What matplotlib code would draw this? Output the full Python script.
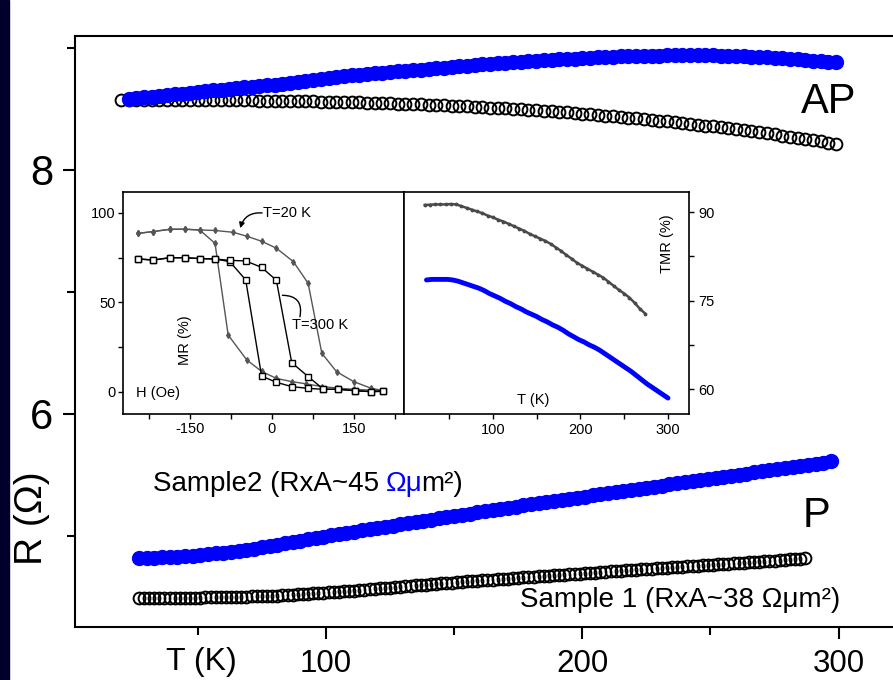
import numpy as np
import matplotlib
matplotlib.use('Agg')
import matplotlib.pyplot as plt
from matplotlib.patches import Rectangle

plt.rcParams['font.family'] = ['Liberation Sans', 'DejaVu Sans']
plt.rcParams['axes.unicode_minus'] = False

BLUE = '#0000ff'

# ---- R(T): sample 1 (open circles), sample 2 (blue) ----
t_ap1 = np.arange(20, 300, 3)
r_ap1 = [8.575, 8.575, 8.575, 8.575, 8.575, 8.575, 8.574, 8.574, 8.574, 8.574,
         8.573, 8.573, 8.573, 8.572, 8.572, 8.571, 8.570, 8.570, 8.569, 8.568,
         8.567, 8.567, 8.566, 8.565, 8.563, 8.562, 8.561, 8.560, 8.558, 8.557,
         8.555, 8.554, 8.552, 8.550, 8.548, 8.546, 8.544, 8.542, 8.540, 8.537,
         8.535, 8.532, 8.530, 8.527, 8.524, 8.521, 8.518, 8.515, 8.511, 8.508,
         8.504, 8.501, 8.497, 8.493, 8.489, 8.485, 8.480, 8.476, 8.471, 8.467,
         8.462, 8.457, 8.452, 8.446, 8.441, 8.435, 8.430, 8.424, 8.418, 8.412,
         8.405, 8.399, 8.392, 8.386, 8.379, 8.372, 8.364, 8.357, 8.349, 8.341,
         8.333, 8.325, 8.317, 8.308, 8.300, 8.291, 8.282, 8.272, 8.263, 8.253,
         8.244, 8.234, 8.223, 8.213]

t_ap2 = np.arange(23, 300, 3)
r_ap2 = [8.585, 8.590, 8.596, 8.601, 8.607, 8.612, 8.619, 8.626, 8.632, 8.639,
         8.646, 8.653, 8.659, 8.665, 8.671, 8.676, 8.682, 8.688, 8.693, 8.700,
         8.707, 8.714, 8.721, 8.728, 8.735, 8.743, 8.751, 8.759, 8.767, 8.775,
         8.780, 8.786, 8.792, 8.797, 8.803, 8.808, 8.813, 8.818, 8.823, 8.828,
         8.833, 8.838, 8.843, 8.849, 8.854, 8.860, 8.865, 8.870, 8.875, 8.879,
         8.883, 8.887, 8.891, 8.896, 8.900, 8.903, 8.907, 8.910, 8.913, 8.917,
         8.920, 8.923, 8.925, 8.927, 8.930, 8.932, 8.934, 8.936, 8.937, 8.938,
         8.939, 8.940, 8.941, 8.941, 8.940, 8.940, 8.939, 8.938, 8.936, 8.933,
         8.931, 8.929, 8.926, 8.922, 8.918, 8.914, 8.910, 8.906, 8.901, 8.896,
         8.891, 8.887, 8.882]

t_p2 = np.arange(27, 298, 3)
r_p2 = [4.820, 4.821, 4.822, 4.824, 4.827, 4.830, 4.834, 4.839, 4.844, 4.850,
        4.857, 4.864, 4.871, 4.879, 4.888, 4.897, 4.907, 4.917, 4.928, 4.940,
        4.951, 4.962, 4.973, 4.983, 4.994, 5.004, 5.015, 5.025, 5.035, 5.045,
        5.055, 5.065, 5.075, 5.085, 5.095, 5.105, 5.115, 5.125, 5.135, 5.144,
        5.154, 5.164, 5.174, 5.183, 5.193, 5.202, 5.212, 5.221, 5.231, 5.240,
        5.250, 5.259, 5.268, 5.278, 5.287, 5.296, 5.305, 5.314, 5.323, 5.332,
        5.341, 5.350, 5.359, 5.368, 5.377, 5.386, 5.395, 5.404, 5.413, 5.422,
        5.431, 5.440, 5.449, 5.458, 5.467, 5.476, 5.485, 5.494, 5.503, 5.512,
        5.521, 5.530, 5.539, 5.548, 5.557, 5.566, 5.575, 5.584, 5.593, 5.602,
        5.611]

t_p1 = np.arange(27, 288, 2)
r_p1 = [4.490, 4.490, 4.491, 4.491, 4.491, 4.492, 4.492,
        4.492, 4.493, 4.493, 4.494, 4.495, 4.495, 4.496, 4.496, 4.497, 4.498,
        4.499, 4.500, 4.501, 4.502, 4.503, 4.505, 4.506, 4.507, 4.508, 4.509,
        4.511, 4.514, 4.516, 4.519, 4.521, 4.524, 4.526, 4.529, 4.531, 4.534,
        4.537, 4.540, 4.543, 4.547, 4.550, 4.553, 4.556, 4.560, 4.563, 4.566,
        4.570, 4.573, 4.577, 4.580, 4.584, 4.588, 4.591, 4.595, 4.599, 4.602,
        4.606, 4.609, 4.612, 4.615, 4.618, 4.621, 4.624, 4.627, 4.630, 4.633,
        4.636, 4.639, 4.642, 4.645, 4.648, 4.651, 4.654, 4.657, 4.660, 4.663,
        4.665, 4.668, 4.671, 4.674, 4.677, 4.680, 4.683, 4.686, 4.689, 4.692,
        4.694, 4.697, 4.700, 4.703, 4.706, 4.709, 4.712, 4.715, 4.718, 4.721,
        4.723, 4.726, 4.729, 4.732, 4.735, 4.737, 4.740, 4.743, 4.746, 4.749,
        4.751, 4.754, 4.757, 4.759, 4.762, 4.765, 4.767, 4.770, 4.773, 4.776,
        4.778, 4.781, 4.784, 4.787, 4.790, 4.793, 4.796, 4.799, 4.802, 4.805,
        4.808, 4.811, 4.815, 4.818]

# ---- inset: MR(H) loops at 20 K and 300 K ----
h_20a = [203, 180, 149, 118, 91, 63, 36, 8, -19, -46, -80, -104, -132, -159, -186, -217, -244]
mr_20a = [0.7, 1.0, 1.5, 2.2, 3.0, 4.5, 5.8, 7.6, 11.5, 17.9, 31.8, 83.0, 90.5, 90.9, 90.9, 89.6, 88.6]
h_20b = [-244, -217, -186, -159, -132, -104, -71, -46, -19, 8, 39, 66, 91, 118, 149, 180, 203]
mr_20b = [88.6, 89.6, 90.9, 90.9, 90.5, 90.2, 89.2, 87.0, 84.2, 80.3, 72.8, 60.7, 21.6, 11.3, 5.8, 2.2, 0.7]

h_300a = [203, 180, 152, 121, 94, 66, 36, 8, -19, -48, -77, -104, -132, -159, -186, -217, -244]
mr_300a = [0.4, 0.2, 0.7, 1.5, 1.5, 2.0, 3.0, 5.4, 8.9, 62.6, 72.8, 74.3, 74.5, 75.0, 75.0, 73.7, 74.3]
h_300b = [-244, -217, -186, -159, -132, -104, -77, -48, -19, 8, 36, 66, 94, 121, 152, 180, 203]
mr_300b = [74.3, 73.7, 75.0, 75.0, 74.5, 74.3, 73.5, 73.2, 69.6, 62.4, 16.4, 8.6, 1.5, 1.5, 0.7, 0.2, 0.4]

# ---- inset: TMR(T) ----
t_tmr1 = np.arange(22, 275, 6)
tmr1 = [91.2, 91.25, 91.3, 91.3, 91.3, 91.35, 91.3, 91.0, 90.7, 90.4,
        90.1, 89.8, 89.4, 89.1, 88.7, 88.4, 88.0, 87.6, 87.2, 86.8,
        86.3, 85.9, 85.5, 85.1, 84.6, 84.0, 83.4, 82.7, 82.1, 81.4,
        80.9, 80.4, 79.9, 79.4, 78.9, 78.2, 77.5, 76.8, 76.2, 75.5,
        74.6, 73.6, 72.8]
t_tmr2 = np.arange(24, 301, 6)
tmr2 = [78.5, 78.6, 78.6, 78.6, 78.6, 78.5, 78.3, 78.0, 77.7, 77.4,
        77.1, 76.7, 76.2, 75.8, 75.4, 74.9, 74.5, 74.0, 73.6, 73.1,
        72.7, 72.3, 71.8, 71.4, 70.9, 70.5, 70.0, 69.4, 68.9, 68.4,
        68.0, 67.5, 67.1, 66.6, 66.0, 65.4, 64.8, 64.2, 63.6, 63.0,
        62.3, 61.6, 60.9, 60.3, 59.7, 59.1, 58.5]

W, H = 893, 680
fig = plt.figure(figsize=(W / 100, H / 100), dpi=100)
fig.patches.append(Rectangle((0, 0), 9 / W, 1, transform=fig.transFigure,
                             color='#00002b', zorder=0))

# main R(T) panel (runs off the right edge)
ax = fig.add_axes([75 / W, 53 / H, 818 / W, 591 / H])
ax.set_xlim(2.1, 321.2)
ax.set_ylim(4.254, 9.098)
ax.spines['right'].set_visible(False)
for s in ax.spines.values():
    s.set_linewidth(1.5)

ax.plot(t_ap1, r_ap1, 'o', ms=8.5, mfc='none', mec='black', mew=1.4)
ax.plot(t_p1, r_p1, 'o', ms=8.5, mfc='none', mec='black', mew=1.4)
for t, r in ((t_ap2, r_ap2), (t_p2, r_p2)):
    ax.plot(t, r, '-o', ms=10, lw=8.5, color=BLUE, mec=BLUE,
            solid_capstyle='round')

ax.set_xticks([100, 200, 300])
ax.set_xticks([50, 150, 250], minor=True)
ax.set_yticks([6, 8])
ax.set_yticks([5, 7, 9], minor=True)
ax.tick_params(which='major', direction='out', length=8.5, width=1.5, pad=7)
ax.tick_params(which='minor', direction='out', length=5.5, width=1.5)
ax.tick_params(axis='x', labelsize=22.5)
ax.tick_params(axis='y', labelsize=30)

ax.text(285.2, 8.467, 'AP', fontsize=30, ha='left', va='baseline')
ax.text(286.0, 5.074, 'P', fontsize=30, ha='left', va='baseline')

fs = 20
t0 = ax.text(32.6, 5.369, 'Sample2 (RxA~45', fontsize=fs, ha='left', va='baseline')
t1 = ax.annotate('Ωμ', xy=(1, 0), xycoords=t0, xytext=(5, 0),
                 textcoords='offset points', fontsize=fs, color=BLUE,
                 ha='left', va='bottom')
ax.annotate('m²)', xy=(1, 0), xycoords=t1, xytext=(-1.5, 0),
            textcoords='offset points', fontsize=fs, ha='left', va='bottom')
ax.text(175.6, 4.418, 'Sample 1 (RxA~38 Ωμm²)', fontsize=fs, ha='left', va='baseline')

fig.text(201 / W, 1 - 662 / H, 'T (K)', fontsize=23, ha='center', va='center')
fig.text(32 / W, 1 - 518 / H, 'R (Ω)', fontsize=28, rotation=90,
         ha='center', va='center')

# inset: MR loops
ifs = 10.5
ax_mr = fig.add_axes([123 / W, 266 / H, 281 / W, 222 / H])
ax_mr.set_xlim(-272, 241)
ax_mr.set_ylim(-12.3, 111.7)
ax_mr.plot(h_20a, mr_20a, '-d', color='#555555', ms=3, lw=1)
ax_mr.plot(h_20b, mr_20b, '-d', color='#555555', ms=3, lw=1)
ax_mr.plot(h_300a, mr_300a, '-s', color='black', ms=4.5, mfc='white', mew=1, lw=1)
ax_mr.plot(h_300b, mr_300b, '-s', color='black', ms=4.5, mfc='white', mew=1, lw=1)
ax_mr.set_xticks([-150, 0, 150])
ax_mr.set_xticks([-225, -75, 75, 225], minor=True)
ax_mr.set_yticks([0, 50, 100])
ax_mr.set_yticks([25, 75], minor=True)
ax_mr.tick_params(which='both', direction='out', length=3.5, width=1,
                  labelsize=ifs, pad=2)
ax_mr.text(-249, -0.5, 'H (Oe)', fontsize=ifs, ha='left', va='center')
ax_mr.text(-159, 29, 'MR (%)', fontsize=ifs, rotation=90, ha='center', va='center')
ax_mr.text(-16, 100, 'T=20 K', fontsize=ifs, ha='left', va='center')
ax_mr.annotate('', xy=(-58, 91.5), xytext=(-18, 100),
               arrowprops=dict(arrowstyle='-|>', lw=1, color='black',
                               mutation_scale=8, shrinkA=0, shrinkB=0,
                               connectionstyle='arc3,rad=0.4'))
ax_mr.text(36, 37.4, 'T=300 K', fontsize=ifs, ha='left', va='center')
ax_mr.annotate('', xy=(51, 42), xytext=(19, 54),
               arrowprops=dict(arrowstyle='-', lw=1, color='black',
                               shrinkA=0, shrinkB=0,
                               connectionstyle='arc3,rad=-0.6'))

# inset: TMR(T)
ax_tmr = fig.add_axes([404 / W, 266 / H, 285 / W, 222 / H])
ax_tmr.set_xlim(-1.7, 324)
ax_tmr.set_ylim(55.8, 93.4)
ax_tmr.plot(t_tmr1, tmr1, '-', marker='.', ms=3.5, color='#4a4a4a', lw=1.8)
ax_tmr.plot(t_tmr2, tmr2, '-', color=BLUE, lw=3.5, solid_capstyle='round')
ax_tmr.yaxis.tick_right()
ax_tmr.set_xticks([100, 200, 300])
ax_tmr.set_xticks([50, 150, 250], minor=True)
ax_tmr.set_yticks([60, 75, 90])
ax_tmr.set_yticks([67.5, 82.5], minor=True)
ax_tmr.tick_params(which='both', direction='out', length=3.5, width=1,
                   labelsize=ifs, pad=3)
ax_tmr.text(145.7, 58.1, 'T (K)', fontsize=ifs, ha='center', va='center')
ax_tmr.text(298.9, 84.7, 'TMR (%)', fontsize=ifs, rotation=90,
            ha='center', va='center')

for a in (ax_mr, ax_tmr):
    for s in a.spines.values():
        s.set_linewidth(1.2)

fig.savefig('out.png', dpi=100)
